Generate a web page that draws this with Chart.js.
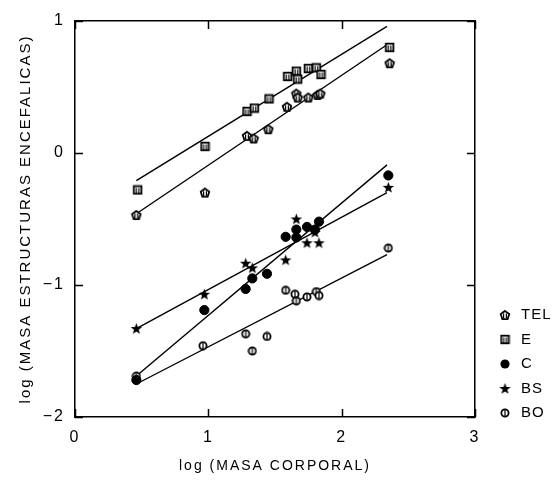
<!DOCTYPE html>
<html>
<head>
<meta charset="utf-8">
<script src="https://cdn.jsdelivr.net/npm/chart.js@4"></script>
<style>
  html, body { margin: 0; padding: 0; background: #fff; }
  #wrap { width: 555px; height: 480px; }
</style>
</head>
<body>
<div id="wrap"><canvas id="chart"></canvas></div>
<script>
// log body mass vs log mass of brain structures, 5 structures + their fitted lines
const xTicks = [0, 1, 2, 3];
const yTicks = [-2, -1, 0, 1];

const telX = [0.46, 0.975, 1.29, 1.34, 1.45, 1.59, 1.66, 1.67, 1.75, 1.82, 1.84, 2.36];
const telY = [-0.47, -0.30, 0.13, 0.11, 0.18, 0.35, 0.45, 0.42, 0.42, 0.44, 0.45, 0.68];

const eX = [0.47, 0.975, 1.29, 1.345, 1.455, 1.595, 1.66, 1.67, 1.75, 1.81, 1.845, 2.36];
const eY = [-0.28, 0.05, 0.315, 0.34, 0.41, 0.58, 0.62, 0.56, 0.64, 0.645, 0.595, 0.80];

const cX = [0.46, 0.97, 1.28, 1.33, 1.44, 1.58, 1.66, 1.66, 1.74, 1.80, 1.83, 2.35];
const cY = [-1.72, -1.19, -1.03, -0.95, -0.915, -0.635, -0.58, -0.64, -0.56, -0.58, -0.52, -0.17];

const bsX = [0.46, 0.97, 1.28, 1.33, 1.58, 1.66, 1.74, 1.80, 1.83, 2.35];
const bsY = [-1.33, -1.07, -0.835, -0.87, -0.81, -0.50, -0.68, -0.60, -0.68, -0.26];

const boX = [0.46, 0.96, 1.28, 1.33, 1.44, 1.58, 1.65, 1.66, 1.74, 1.81, 1.83, 2.35];
const boY = [-1.69, -1.46, -1.37, -1.50, -1.39, -1.04, -1.07, -1.12, -1.09, -1.05, -1.08, -0.72];

// regression lines, drawn between the first and last x
const fitX = [0.46, 2.34];
const telFit = [-0.46, 0.82];
const eFit = [-0.21, 0.96];
const cFit = [-1.69, -0.09];
const bsFit = [-1.33, -0.30];
const boFit = [-1.75, -0.77];

const FONT = '"Liberation Sans", Arial, sans-serif';
Chart.defaults.font.family = FONT;
Chart.defaults.color = '#000';

const pts = (xs, ys) => xs.map((x, i) => ({ x: x, y: ys[i] }));

// little canvases used as point styles
function icon(size, draw) {
  const c = document.createElement('canvas');
  c.width = size; c.height = size;
  const g = c.getContext('2d');
  g.strokeStyle = '#000'; g.fillStyle = '#000'; g.lineWidth = 1.8;
  draw(g, size / 2);
  return c;
}

const telIcon = icon(12, (g, m) => {
  g.beginPath();
  for (let i = 0; i < 5; i++) {
    const a = -Math.PI / 2 + i * 2 * Math.PI / 5;
    g.lineTo(m + 4.5 * Math.cos(a), m + 0.4 + 4.5 * Math.sin(a));
  }
  g.closePath();
  g.fillStyle = '#fff'; g.fill(); g.stroke();
  g.lineWidth = 1.2;
  g.beginPath(); g.moveTo(m - 1.4, m - 1.5); g.lineTo(m - 1.4, m + 3.5);
  g.moveTo(m + 1.4, m - 1.5); g.lineTo(m + 1.4, m + 3.5); g.stroke();
});

const eIcon = icon(11, (g, m) => {
  g.fillStyle = '#fff';
  g.fillRect(m - 3.8, m - 3.8, 7.6, 7.6);
  g.strokeRect(m - 3.8, m - 3.8, 7.6, 7.6);
  g.lineWidth = 1.2;
  g.beginPath(); g.moveTo(m - 1.3, m - 2); g.lineTo(m - 1.3, m + 3.5);
  g.moveTo(m + 1.3, m - 2); g.lineTo(m + 1.3, m + 3.5); g.stroke();
});

const bsIcon = icon(13, (g, m) => {
  g.beginPath();
  for (let i = 0; i < 10; i++) {
    const a = -Math.PI / 2 + i * Math.PI / 5;
    const r = i % 2 ? 2.5 : 6;
    g.lineTo(m + r * Math.cos(a), m + 0.4 + r * Math.sin(a));
  }
  g.closePath();
  g.fill();
});

const boIcon = icon(10, (g, m) => {
  g.beginPath(); g.arc(m, m, 3.6, 0, Math.PI * 2);
  g.fillStyle = '#fff'; g.fill(); g.stroke();
  g.lineWidth = 1.2;
  g.beginPath(); g.moveTo(m, m - 3); g.lineTo(m, m + 3); g.stroke();
});

function group(label, xs, ys, style, radius) {
  return {
    label: label, data: pts(xs, ys), showLine: false,
    pointStyle: style, pointRadius: radius || 4, pointHoverRadius: radius || 4,
    backgroundColor: '#000', borderColor: '#000', borderWidth: 1
  };
}

function fit(ys) {
  return {
    label: '', fit: true, data: pts(fitX, ys), showLine: true,
    pointRadius: 0, borderColor: '#000', borderWidth: 1.4, fill: false
  };
}

// legend on the right plus tick marks pointing into the plot on all four sides
const overlay = {
  id: 'overlay',
  afterDraw(chart) {
    const { ctx, chartArea: a } = chart;
    const x = chart.scales.x, y = chart.scales.y;
    ctx.save();
    ctx.letterSpacing = '0px';
    ctx.strokeStyle = '#000';
    ctx.lineWidth = 1.5;
    ctx.beginPath();
    xTicks.forEach(v => {
      const px = Math.round(x.getPixelForValue(v)) + 0.5;
      ctx.moveTo(px, a.bottom); ctx.lineTo(px, a.bottom - 8);
      ctx.moveTo(px, a.top); ctx.lineTo(px, a.top + 8);
    });
    yTicks.forEach(v => {
      const py = Math.round(y.getPixelForValue(v)) + 0.5;
      ctx.moveTo(a.left, py); ctx.lineTo(a.left + 8, py);
      ctx.moveTo(a.right, py); ctx.lineTo(a.right - 8, py);
    });
    ctx.stroke();

    const items = chart.data.datasets.filter(d => !d.fit);
    ctx.letterSpacing = '1px';
    ctx.font = '15px ' + FONT;
    ctx.textBaseline = 'middle';
    ctx.fillStyle = '#000';
    items.forEach((d, i) => {
      const ly = 315 + i * 24.5;
      if (typeof d.pointStyle === 'string') {
        ctx.beginPath(); ctx.arc(505, ly, d.pointRadius, 0, Math.PI * 2); ctx.fill();
      } else {
        ctx.drawImage(d.pointStyle, 505 - d.pointStyle.width / 2, ly - d.pointStyle.height / 2);
      }
      ctx.fillText(d.label, 521, ly);
    });
    ctx.restore();
  }
};

const spacing = {
  id: 'spacing',
  beforeDraw(chart) { chart.ctx.letterSpacing = '2px'; },
  beforeDatasetsDraw(chart) { chart.ctx.letterSpacing = '0px'; }
};

const frame = { color: '#000', width: 1.5 };
const noGrid = { drawOnChartArea: false, drawTicks: false };

new Chart(document.getElementById('chart'), {
  type: 'scatter',
  data: {
    datasets: [
      group('TEL', telX, telY, telIcon),
      group('E', eX, eY, eIcon),
      group('C', cX, cY, 'circle', 4.6),
      group('BS', bsX, bsY, bsIcon),
      group('BO', boX, boY, boIcon),
      fit(telFit), fit(eFit), fit(cFit), fit(bsFit), fit(boFit)
    ]
  },
  options: {
    responsive: true,
    maintainAspectRatio: false,
    animation: false,
    layout: { padding: { left: 0, top: 21, right: 80, bottom: 0 } },
    plugins: { legend: { display: false }, tooltip: { enabled: false } },
    scales: {
      x: {
        type: 'linear', position: 'bottom', min: 0, max: 3,
        afterBuildTicks: s => { s.ticks = xTicks.map(v => ({ value: v })); },
        ticks: { font: { size: 16 }, padding: 11 },
        grid: noGrid, border: frame,
        title: { display: true, text: 'log (MASA CORPORAL)', font: { size: 14 }, padding: { top: 0, bottom: 5 } },
        afterFit: s => { s.height = 63; }
      },
      y: {
        type: 'linear', position: 'left', min: -2, max: 1,
        afterBuildTicks: s => { s.ticks = yTicks.map(v => ({ value: v })); },
        ticks: { font: { size: 16 }, padding: 10, callback: v => v < 0 ? '\u2212' + Math.abs(v) : String(v) },
        grid: noGrid, border: frame,
        title: { display: true, text: 'log (MASA ESTRUCTURAS ENCEFALICAS)', font: { size: 15 }, padding: { top: 17, bottom: 0 } },
        afterFit: s => { s.width = 75; }
      },
      x2: {
        type: 'linear', position: 'top', min: 0, max: 3,
        ticks: { display: false }, grid: noGrid, border: frame,
        afterFit: s => { s.height = 0; }
      },
      y2: {
        type: 'linear', position: 'right', min: -2, max: 1,
        ticks: { display: false }, grid: noGrid, border: frame,
        afterFit: s => { s.width = 0; }
      }
    }
  },
  plugins: [spacing, overlay]
});
</script>
</body>
</html>
